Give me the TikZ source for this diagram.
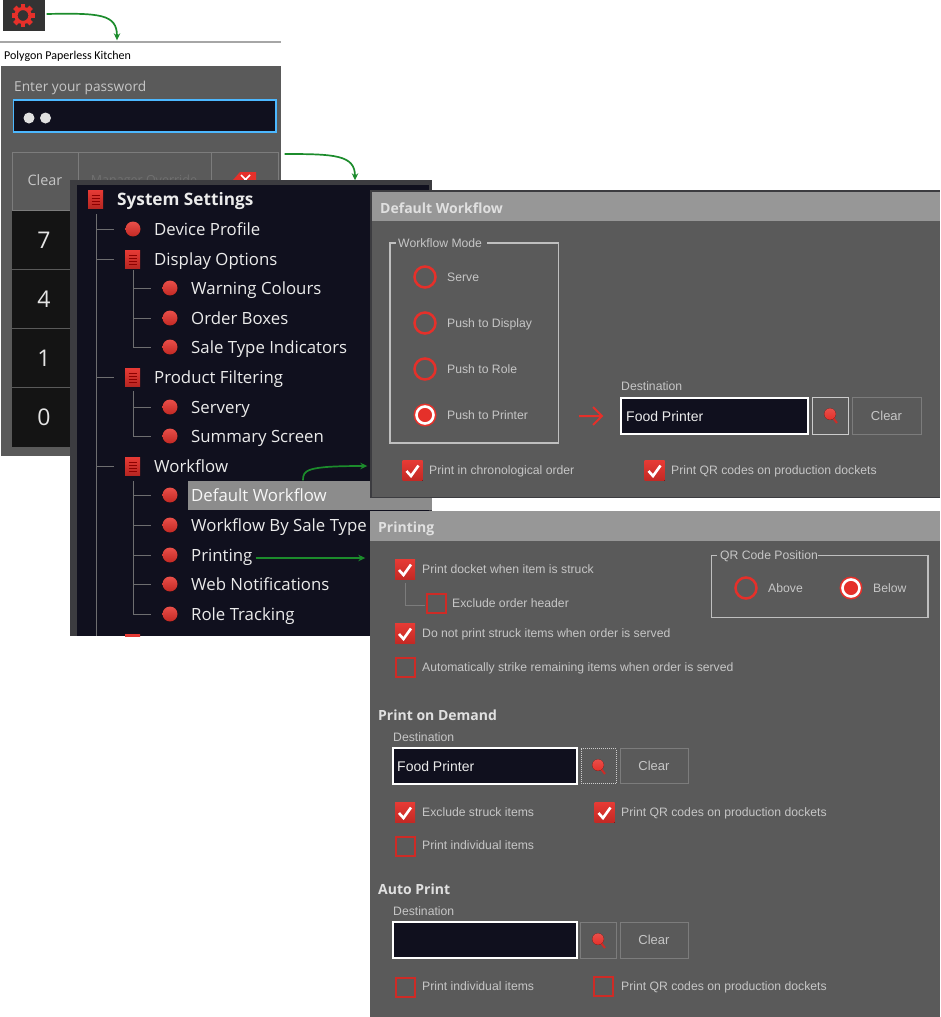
\documentclass[tikz,border=0pt]{standalone}
\usepackage{fontspec}
\setmainfont{Open Sans}
\newfontfamily\dlgfont{Liberation Sans}
\newfontfamily\titlefont{Carlito}
\definecolor{panel}{HTML}{5A5A5A}
\definecolor{navy}{HTML}{10101E}
\definecolor{hdr}{HTML}{979797}
\definecolor{txt}{HTML}{C6C6C6}
\definecolor{redm}{HTML}{E5302A}
\definecolor{grn}{HTML}{1C8C2C}
\definecolor{frame}{HTML}{3C3C40}
\definecolor{treel}{HTML}{6E6E70}
\definecolor{btnl}{HTML}{7C7C7C}
\usetikzlibrary{arrows.meta}
\tikzset{
  x=1pt,y=-1pt,
  lbl/.style={anchor=base west,inner sep=0pt},
  tree1/.style={lbl,yshift=-6pt,text=white!92!black,font=\fontsize{16.8}{20}\selectfont},
  treehead/.style={lbl,yshift=-6pt,text=white!92!black,font=\bfseries\fontsize{17.2}{20}\selectfont},
  dlg/.style={lbl,yshift=-4.4pt,text=txt,font=\dlgfont\fontsize{12.2}{14}\selectfont},
  head/.style={lbl,yshift=-5pt,text=white!88!black,font=\bfseries\fontsize{14}{16}\selectfont},
  ctr/.style={inner sep=0pt,text=txt,font=\dlgfont\fontsize{13}{15}\selectfont},
  grp/.style={draw=white!75!black,line width=1.2pt},
  field/.style={draw=white,line width=1.6pt,fill=navy},
  btn/.style={draw=btnl,line width=1pt},
  greenarrow/.style={draw=grn,line width=1.7pt,-{Stealth[length=7pt,width=6.5pt]}},
  treeline/.style={draw=treel,line width=1pt},
  fieldtxt/.style={lbl,yshift=-5pt,text=white!92!black,font=\dlgfont\fontsize{14}{16}\selectfont},
  anchorpt/.style={inner sep=0pt,minimum size=1pt},
}
\newcommand{\bul}[2]{\fill[top color=redm!85!white,bottom color=redm!85!black] (#1,#2) circle (7.5);}
\newcommand{\docicon}[2]{%
  \fill[top color=redm!95!white,bottom color=redm!80!black] (#1-7.5,#2-9) rectangle (#1+7.5,#2+9);
  \foreach \dy in {-4,-1,2,5}{\draw[red!55!black,line width=.9pt] (#1-4,#2+\dy) -- (#1+4,#2+\dy);}}
\newcommand{\radio}[2]{\draw[redm,line width=2.5pt] (#1,#2) circle (10.5);}
\newcommand{\radioon}[2]{\fill[redm] (#1,#2) circle (11.5);\draw[white,line width=2.6pt] (#1,#2) circle (8.5);}
\newcommand{\chkon}[2]{%
  \fill[top color=redm!95!white,bottom color=redm!85!black] (#1-10,#2-10) rectangle (#1+10,#2+10);
  \draw[white,line width=2.6pt] (#1-6,#2+0.5) -- (#1-1.5,#2+5.5) -- (#1+6,#2-5);}
\newcommand{\chkoff}[2]{\draw[redm!90!black,line width=2pt] (#1-9.5,#2-9.5) rectangle (#1+9.5,#2+9.5);}
\newcommand{\lens}[2]{%
  \draw[redm!90!black,line width=2pt] (#1,#2) -- (#1+7,#2+9);
  \fill[top color=redm!85!white,bottom color=redm] (#1,#2) circle (5.8);}
\begin{document}
\begin{tikzpicture}
\useasboundingbox (0,0) rectangle (940,1017);
\fill[white] (0,0) rectangle (940,1017);
% gear
\fill[black!80] (3,0) rectangle (45,31);
\foreach \a in {0,45,...,315}{\fill[redm,rotate around={\a:(23,15.5)}] (20.7,4) rectangle (25.3,9);}
\draw[redm,line width=3.2pt] (23,15.5) circle (7);
\node[anchorpt] (gear) at (46,14) {};
% login window
\draw[black!35,line width=1.2pt] (0,42) -- (281,42);
\node[lbl,yshift=-4pt,text=black,font=\titlefont\fontsize{12}{13}\selectfont] (appname) at (4,55) {Polygon Paperless Kitchen};
\node[anchorpt] (loginTop) at (117,41) {};
\fill[panel] (1,66) rectangle (281,456);
\node[lbl,yshift=-5pt,text=txt,font=\fontsize{13.7}{16}\selectfont] (enter) at (14,86) {Enter your password};
\draw[draw=blue!40!cyan!70!white,line width=1.4pt,fill=navy] (13.5,100) rectangle (276,132);
\fill[white!88!black] (29,118) circle (5.5) (45.5,118) circle (5.5);
\draw[btn] (12,152) rectangle (78,210) (78,152) rectangle (211,210) (211,152) rectangle (278,210);
\node[text=txt,font=\fontsize{14.4}{16}\selectfont,inner sep=0pt] (clr) at (45,180) {Clear};
\node[text=black!56,font=\fontsize{12.5}{14}\selectfont,inner sep=0pt] (mgr) at (144,181) {Manager Override};
\fill[redm] (233,180) -- (240,172) -- (256,172) -- (256,186) -- (240,186) -- cycle;
\draw[white,line width=1.5pt] (241,175) -- (250,184) (250,175) -- (241,184);
\foreach \yt/\yb/\d in {211/269/7,270/328/4,329/387/1,388/447/0}{
  \fill[black!92] (12,\yt) rectangle (76,\yb);
  \node[text=white!90!black,font=\fontsize{23}{26}\selectfont,inner sep=0pt] (key\d) at (44,{(\yt+\yb)/2}) {\d};
}
\node[anchorpt] (loginR) at (284,154) {};
% settings window
\fill[frame] (70,180) rectangle (432,636);
\fill[navy] (77,185) rectangle (429,636);
\docicon{95.5}{199}
\node[treehead] (ss) at (117,199) {System Settings};
\draw[treeline] (96,214) -- (96,636);
\draw[treeline] (133,270) -- (133,347) -- (151,347);
\draw[treeline] (133,391) -- (133,436) -- (151,436);
\draw[treeline] (133,481) -- (133,614) -- (151,614);
\foreach \y in {229,259,377,466}{\draw[treeline] (96,\y) -- (114,\y);}
\foreach \y in {288,318,407,495,525,555,584}{\draw[treeline] (133,\y) -- (151,\y);}
\bul{133}{229}
\docicon{132.5}{259}\docicon{132.5}{377}\docicon{132.5}{466}
\foreach \y in {288,318,347,407,436,495,525,555,584,614}{\bul{170}{\y}}
\fill[black!45] (188,481) rectangle (432,510);
\node[tree1] (t1) at (154,229) {Device Profile};
\node[tree1] (t2) at (154,259) {Display Options};
\node[tree1] (t3) at (191,288) {Warning Colours};
\node[tree1] (t4) at (191,318) {Order Boxes};
\node[tree1] (t5) at (191,347) {Sale Type Indicators};
\node[tree1] (t6) at (154,377) {Product Filtering};
\node[tree1] (t7) at (191,407) {Servery};
\node[tree1] (t8) at (191,436) {Summary Screen};
\node[tree1] (t9) at (154,466) {Workflow};
\node[tree1,text=white!97!black] (t10) at (191,495) {Default Workflow};
\node[tree1] (t11) at (191,525) {Workflow By Sale Type};
\node[tree1] (t12) at (191,555) {Printing};
\node[tree1] (t13) at (191,584) {Web Notifications};
\node[tree1] (t14) at (191,614) {Role Tracking};
\begin{scope}
\clip (70,630) rectangle (432,636);
\docicon{132.5}{643}
\end{scope}
\node[anchorpt] (settingsTop) at (355,181) {};
\node[anchorpt] (hlTop) at (303,481) {};
\node[anchorpt] (printEnd) at (255,558) {};
% default workflow panel
\fill[frame] (370,190) rectangle (940,498);
\fill[panel] (372,192) rectangle (940,497);
\fill[hdr] (372,192) rectangle (940,221);
\node[head] (dwt) at (380,208) {Default Workflow};
\draw[grp] (390,243) rectangle (558.5,443);
\fill[panel] (396,240) rectangle (487,247);
\node[dlg] (wm) at (398,243) {Workflow Mode};
\radio{425}{277}\radio{425}{323}\radio{425}{369}\radioon{425}{415}
\node[dlg] (w1) at (447,277) {Serve};
\node[dlg] (w2) at (447,323) {Push to Display};
\node[dlg] (w3) at (447,369) {Push to Role};
\node[dlg] (w4) at (447,415) {Push to Printer};
\draw[redm,line width=2pt] (579,416) -- (601,416) (593,407) -- (602,416) -- (593,425);
\node[dlg] (d1) at (621,386) {Destination};
\draw[field] (621,398) rectangle (808,434);
\node[fieldtxt] (f1) at (626,416) {Food Printer};
\draw[btn,draw=white!80!black] (812,397.5) rectangle (848,434);
\lens{830}{414}
\draw[btn] (852,397.5) rectangle (921,434);
\node[ctr] (c1) at (886.5,416) {Clear};
\chkon{412.5}{470.5}
\node[dlg] (p1) at (429,470) {Print in chronological order};
\chkon{654.5}{470.5}
\node[dlg] (p2) at (671,470) {Print QR codes on production dockets};
% printing panel
\node[anchorpt] (dwL) at (368,466) {};
\node[anchorpt] (prL) at (366,558) {};
\fill[panel] (370,511) rectangle (940,1017);
\fill[hdr] (370,511) rectangle (940,541);
\node[head] (prt) at (378,527) {Printing};
\chkon{405}{569.5}
\node[dlg] (a1) at (422,569) {Print docket when item is struck};
\draw[treeline,draw=btnl] (405,583) -- (405,605) -- (425,605);
\chkoff{436}{603.5}
\node[dlg] (a2) at (452,603) {Exclude order header};
\chkon{405}{633.5}
\node[dlg] (a3) at (422,633) {Do not print struck items when order is served};
\chkoff{405}{667.5}
\node[dlg] (a4) at (422,667) {Automatically strike remaining items when order is served};
\draw[grp] (711.5,555.5) rectangle (928,617.5);
\fill[panel] (717,552) rectangle (818,559);
\node[dlg] (qr) at (720,555) {QR Code Position};
\radio{746}{588}\radioon{851}{588}
\node[dlg] (q1) at (768,588) {Above};
\node[dlg] (q2) at (873,588) {Below};
\node[head] (pod) at (378,715) {Print on Demand};
\node[dlg] (d2) at (393,737) {Destination};
\draw[field] (393,748) rectangle (577,784);
\node[fieldtxt] (f2) at (397,766) {Food Printer};
\draw[btn,densely dotted,draw=white!80!black] (581,748.5) rectangle (616,783);
\lens{598}{765}
\draw[btn] (620,748) rectangle (688,783.5);
\node[ctr] (c2) at (654,766) {Clear};
\chkon{405}{812.5}
\node[dlg] (b1) at (422,812) {Exclude struck items};
\chkon{604.5}{812.5}
\node[dlg] (b2) at (621,812) {Print QR codes on production dockets};
\chkoff{405}{846}
\node[dlg] (b3) at (422,845) {Print individual items};
\node[head] (ap) at (378,889) {Auto Print};
\node[dlg] (d3) at (393,911) {Destination};
\draw[field] (393,922) rectangle (577,958);
\draw[btn] (580,922) rectangle (616,958);
\lens{598}{939}
\draw[btn] (620,922) rectangle (688,958);
\node[ctr] (c3) at (654,940) {Clear};
\chkoff{405}{987}
\node[dlg] (e1) at (422,986) {Print individual items};
\chkoff{603}{986}
\node[dlg] (e2) at (621,986) {Print QR codes on production dockets};
% connectors
\draw[greenarrow] (gear) .. controls (100,13) and (117,14) .. (loginTop);
\draw[greenarrow] (loginR) .. controls (335,154) and (355,155) .. (settingsTop);
\draw[greenarrow] (hlTop) .. controls (303,470) and (306,466) .. (dwL);
\draw[greenarrow] (printEnd) -- (prL);
\end{tikzpicture}
\end{document}
